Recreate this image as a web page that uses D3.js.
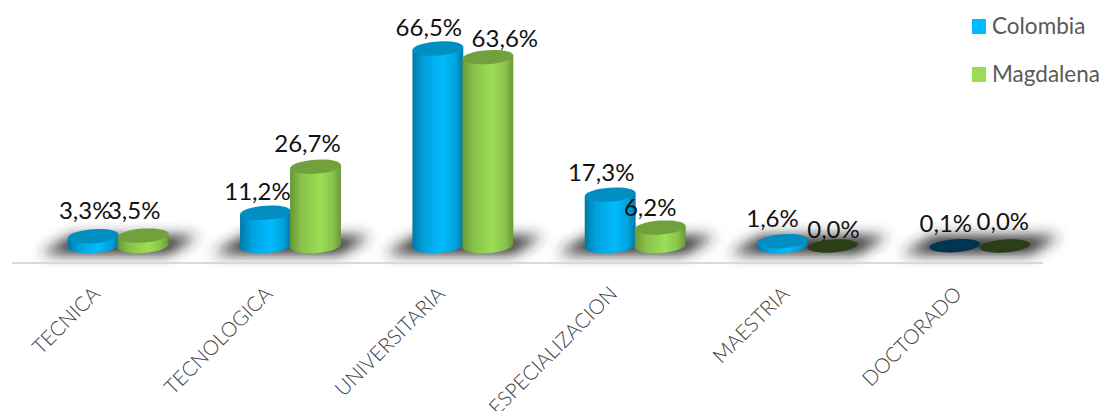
<!DOCTYPE html>
<html>
<head>
<meta charset="utf-8">
<script src="https://cdn.jsdelivr.net/npm/d3@7"></script>
<style>
body{margin:0;background:#fff;overflow:hidden}
svg{display:block;font-family:Lato,"Open Sans",sans-serif}
</style>
</head>
<body>
<script>
// data
const categories=["TECNICA","TECNOLOGICA","UNIVERSITARIA","ESPECIALIZACION","MAESTRIA","DOCTORADO"];
const seriesNames=["Colombia","Magdalena"];
const colombia=[3.3,11.2,66.5,17.3,1.6,0.1];
const magdalena=[3.5,26.7,63.6,6.2,0.0,0.0];

const w=1099,h=411;
const baseY=246;
const rx=25.5,ry=7,tilt=-4;

const svg=d3.select("body").append("svg").attr("width",w).attr("height",h);
const defs=svg.append("defs");

//colours per series: edge, light, top, flat(almost zero)
const pal={
  Colombia:{edge:"#0079a8",light:"#00bbff",top:"#008fc0",flat:"#00344f",legend:"#00b9ff"},
  Magdalena:{edge:"#699737",light:"#9cdf56",top:"#70a13c",flat:"#2c3e17",legend:"#9cdb58"}
};
seriesNames.forEach(s=>{
  const mid=d3.interpolateRgb(pal[s].edge,pal[s].light)(0.6);
  const g=defs.append("linearGradient").attr("id","grad"+s);
  g.append("stop").attr("offset","0%").attr("stop-color",pal[s].edge);
  g.append("stop").attr("offset","22%").attr("stop-color",mid);
  g.append("stop").attr("offset","60%").attr("stop-color",pal[s].light);
  g.append("stop").attr("offset","85%").attr("stop-color",mid);
  g.append("stop").attr("offset","100%").attr("stop-color",pal[s].edge);
});
defs.append("filter").attr("id","blur").attr("x","-20%").attr("y","-80%").attr("width","140%").attr("height","260%")
  .append("feGaussianBlur").attr("stdDeviation",7);

//scales
const xScale=d3.scaleBand().domain(categories).range([32,1066]);
const inner=d3.scaleBand().domain(seriesNames).range([-50,50]);
const yScale=d3.scaleLinear().domain([0,70]).range([baseY,baseY-70*2.97]);
const cx=(i,s)=>xScale(categories[i])+xScale.bandwidth()/2+inner(s)+inner.bandwidth()/2;

//floor shadows
svg.append("g").selectAll("path").data(categories).enter().append("path")
  .attr("d",d=>{
    const c=xScale(d)+xScale.bandwidth()/2;
    return d3.line()([[c-78,254],[c-46,236],[c+80,236],[c+50,254]])+"Z";
  })
  .attr("fill","#262626").attr("filter","url(#blur)");

//axis line
svg.append("line").attr("x1",12).attr("x2",1043).attr("y1",263).attr("y2",263)
  .attr("stroke","#d9d9d9").attr("stroke-width",2);

//category labels
const labelsAxis=svg.append("g").attr("transform","translate(0,263)")
  .call(d3.axisBottom(xScale).tickSize(0));
labelsAxis.select(".domain").remove();
labelsAxis.selectAll("text")
  .attr("transform","translate(-27,22) rotate(-45)")
  .attr("x",0).attr("y",0).attr("dy","0.7em")
  .attr("text-anchor","end")
  .attr("fill","#404040")
  .style("font-size","20.5px").style("font-weight",300).style("font-family","Lato,sans-serif");

//cylinders
const dxEnd=rx*Math.cos(tilt*Math.PI/180), dyEnd=rx*Math.sin(tilt*Math.PI/180);
const rows=[];
seriesNames.forEach((s,k)=>{
  (k==0?colombia:magdalena).forEach((v,i)=>rows.push({s,i,v}));
});
const bars=svg.append("g").selectAll("g").data(rows).enter().append("g")
  .attr("transform",d=>"translate("+cx(d.i,d.s)+",0)");
bars.filter(d=>d.v>=0.5).append("path")
  .attr("d",d=>{
    const t=yScale(d.v);
    return "M"+(-dxEnd)+","+(t-dyEnd)+
      "L"+(-dxEnd)+","+(baseY-dyEnd)+
      "A"+rx+","+ry+" "+tilt+" 0 0 "+dxEnd+","+(baseY+dyEnd)+
      "L"+dxEnd+","+(t+dyEnd)+"Z";
  })
  .attr("fill",d=>"url(#grad"+d.s+")");
bars.append("ellipse")
  .attr("rx",rx).attr("ry",d=>d.v<0.5?6.5:ry)
  .attr("transform",d=>"translate(0,"+yScale(d.v)+") rotate("+tilt+")")
  .attr("fill",d=>d.v<0.5?pal[d.s].flat:pal[d.s].top);

//value labels, moved by hand like in the original chart
const nudgeColombia=[[-8,-17],[-8,-13],[-9,-12],[-9,-14],[-10,-14],[-9,-14]];
const nudgeMagdalena=[[-9,-17],[-8,-15],[17,-10],[-10,-12],[1,-8],[-2,-16]];
svg.append("g").selectAll("text").data(rows).enter().append("text")
  .attr("x",d=>cx(d.i,d.s)+(d.s=="Colombia"?nudgeColombia:nudgeMagdalena)[d.i][0])
  .attr("y",d=>yScale(d.v)+(d.s=="Colombia"?nudgeColombia:nudgeMagdalena)[d.i][1])
  .attr("text-anchor","middle")
  .attr("fill","#111")
  .style("font-size","24px")
  .text(d=>d.v.toFixed(1).replace(".",",")+"%");

//legend
const leg=svg.append("g").selectAll("g").data(seriesNames).enter().append("g")
  .attr("transform",(d,i)=>"translate(972,"+(19+i*48)+")");
leg.append("rect").attr("width",14).attr("height",15).attr("fill",d=>pal[d].legend);
leg.append("text").attr("x",20).attr("y",15).attr("fill","#595959")
  .style("font-size","22.5px").text(d=>d);
</script>
</body>
</html>
